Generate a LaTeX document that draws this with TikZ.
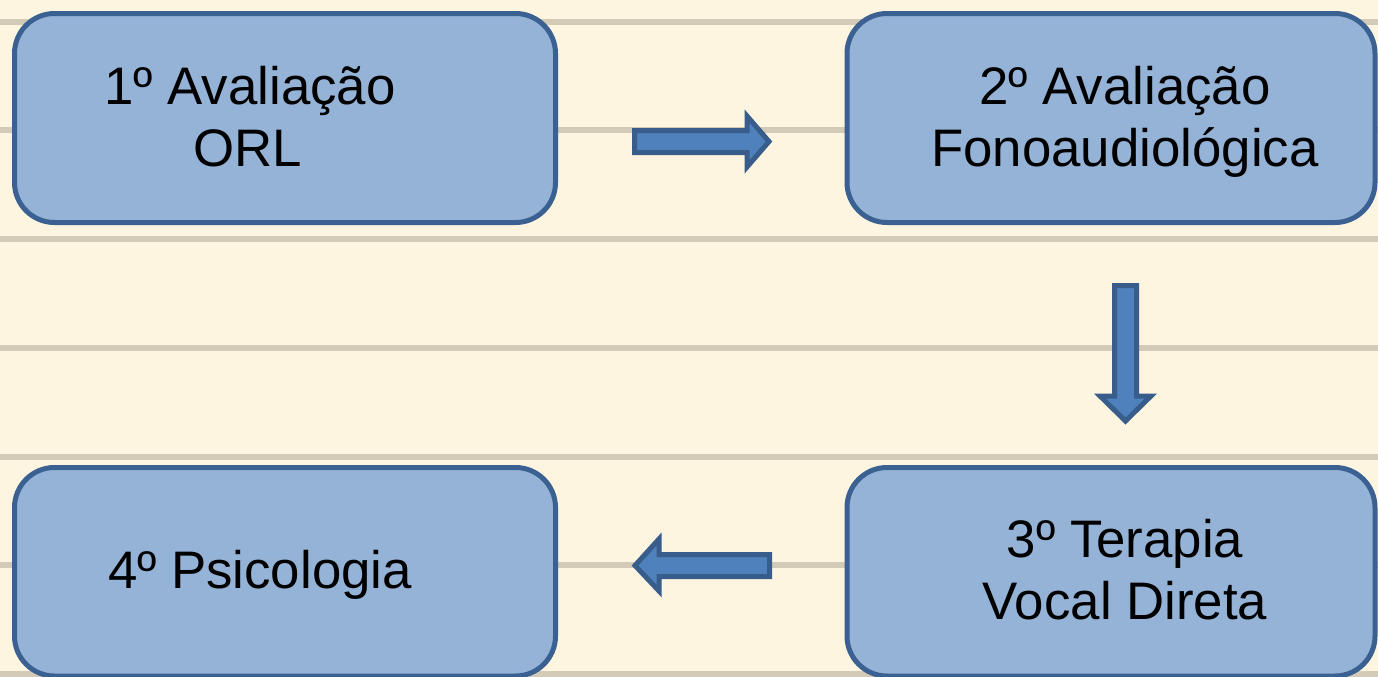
\documentclass[tikz,border=0pt]{standalone}
\usepackage{fontspec}
\setmainfont{Liberation Sans}
\definecolor{bgcream}{HTML}{FDF5E0}
\definecolor{rulegray}{HTML}{D3CBB8}
\definecolor{boxfill}{HTML}{95B3D7}
\definecolor{boxline}{HTML}{3B6192}
\definecolor{arrfill}{HTML}{4F81BD}
\definecolor{arrline}{HTML}{385D8A}
\tikzset{
  stepbox/.style={draw=boxline, fill=boxfill, line width=2.5pt, rounded corners=20pt},
  steptext/.style={align=center, font=\fontsize{26.4}{31}\selectfont, inner sep=0pt, anchor=base},
  blockarrow/.style={draw=arrline, fill=arrfill, line width=2.5pt, line join=miter},
  ruleline/.style={draw=rulegray, line width=3pt}
}
\begin{document}
\begin{tikzpicture}[x=0.5pt,y=-0.5pt]
\fill[bgcream] (0,0) rectangle (1378,676);
\useasboundingbox (0,0) rectangle (1378,676);
% ruled lines
\foreach \yy in {22,130,239,348,457,565,674}
  \draw[ruleline] (0,\yy) -- (1378,\yy);
% boxes
\draw[stepbox] (14.5,13.5) rectangle (555.5,222.5);
\draw[stepbox] (847,13.5) rectangle (1375,222.5);
\draw[stepbox] (847,467.5) rectangle (1375,676);
\draw[stepbox] (14.5,467.5) rectangle (555.5,676);
% texts
\node[steptext] (t1a) at (250,104) {1º Avaliação};
\node[steptext] (t1b) at (248,166) {ORL};
\node[steptext] (t2a) at (1125,104) {2º Avaliação};
\node[steptext] (t2b) at (1125,166) {Fonoaudiológica};
\node[steptext] (t3a) at (1125,557) {3º Terapia};
\node[steptext] (t3b) at (1125,619) {Vocal Direta};
\node[steptext] (t4) at (260,588) {4º Psicologia};
% block arrows
\draw[blockarrow] (634.5,130.5) -- (747,130.5) -- (747,116) -- (769,141.5) -- (747,167) -- (747,152.5) -- (634.5,152.5) -- cycle;
\draw[blockarrow] (1114.5,285.5) -- (1136.5,285.5) -- (1136.5,396) -- (1151,396) -- (1125.5,421) -- (1100,396) -- (1114.5,396) -- cycle;
\draw[blockarrow] (769.5,554.5) -- (659,554.5) -- (659,539) -- (635,565.5) -- (659,591) -- (659,576.5) -- (769.5,576.5) -- cycle;
\end{tikzpicture}
\end{document}
